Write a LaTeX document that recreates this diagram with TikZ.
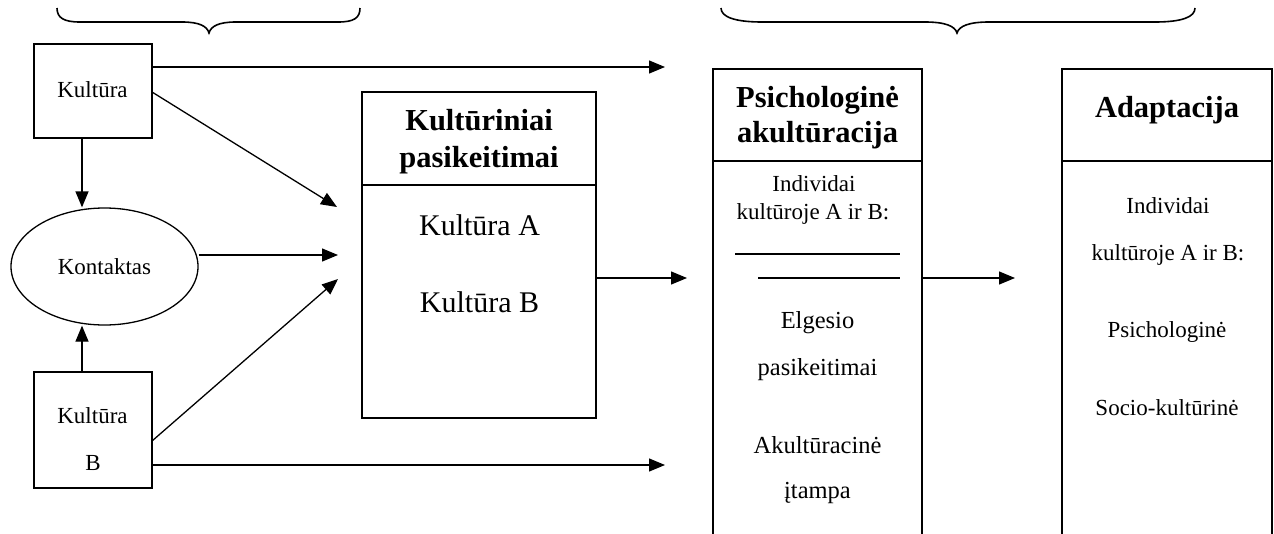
\documentclass[tikz,border=0pt]{standalone}
\usepackage{fontspec}
\setmainfont{Liberation Serif}
\usetikzlibrary{arrows.meta,shapes.geometric}

\begin{document}
\begin{tikzpicture}[x=1pt,y=-1pt,
  line width=1.3pt,
  arr/.style={-{Triangle[length=16pt,width=13pt]}},
  box/.style={draw,rectangle,inner sep=0pt},
  txt/.style={anchor=base,inner sep=0pt,font=\fontsize{23}{26}\selectfont},
  big/.style={anchor=base,inner sep=0pt,font=\fontsize{30}{34}\selectfont},
  head/.style={anchor=base,inner sep=0pt,font=\fontsize{30.5}{34}\selectfont\bfseries},
  mid/.style={anchor=base,inner sep=0pt,font=\fontsize{24.5}{28}\selectfont},
  brace/.style={line width=1.6pt}
]
\useasboundingbox (0,0) rectangle (1274,533);
\clip (0,0) rectangle (1274,533);

% curly braces on top
\draw[brace] (57,8) .. controls (57,18) and (64,22) .. (80,22) -- (182,22)
  .. controls (199,22) and (207,26) .. (209,33)
  .. controls (211,26) and (219,22) .. (236,22) -- (338,22)
  .. controls (354,22) and (360,18) .. (360,8);
\draw[brace] (721,8) .. controls (721,17) and (735,22) .. (762,22) -- (925,22)
  .. controls (945,22) and (955,26) .. (957,33)
  .. controls (959,26) and (969,22) .. (989,22) -- (1155,22)
  .. controls (1182,22) and (1195,17) .. (1195,8);

% culture boxes and contact
\node[box,minimum width=118pt,minimum height=94pt] (kulA) at (93,91) {};
\node[txt] (kulAt) at (92.5,97) {Kultūra};
\node[draw,ellipse,inner sep=0pt,minimum width=187pt,minimum height=117pt,
      font=\fontsize{23}{26}\selectfont] (kont) at (104.5,266.5) {Kontaktas};
\node[box,minimum width=118pt,minimum height=116pt] (kulB) at (93,430) {};
\node[txt] (kulBt) at (92.5,423) {Kultūra};
\node[txt] (kulBb) at (93,470) {B};

% cultural changes
\node[box,minimum width=234pt,minimum height=326pt] (kp) at (479,255) {};
\coordinate (kpDiv) at (362,185);
\draw (kpDiv) -- (kpDiv -| kp.east);
\node[head] (kpH1) at (479,130) {Kultūriniai};
\node[head] (kpH2) at (479,167) {pasikeitimai};
\node[big] (kpA) at (479.5,235) {Kultūra A};
\node[big] (kpB) at (479.5,312) {Kultūra B};

% psychological acculturation
\node[box,minimum width=209pt,minimum height=476pt] (pa) at (817.5,307) {};
\coordinate (paDiv) at (713,161);
\draw (paDiv) -- (paDiv -| pa.east);
\node[head] (paH1) at (817.5,107) {Psichologinė};
\node[head] (paH2) at (817.5,142) {akultūracija};
\node[txt] (paI1) at (814,191) {Individai};
\node[txt] (paI2) at (813,219) {kultūroje A ir B:};
\coordinate (l1a) at (735,254); \coordinate (l1b) at (900,254);
\coordinate (l2a) at (758,278); \coordinate (l2b) at (900,278);
\draw (l1a) -- (l1b);
\draw (l2a) -- (l2b);
\node[mid] (paE1) at (817.5,328) {Elgesio};
\node[mid] (paE2) at (817.5,375) {pasikeitimai};
\node[mid] (paA1) at (817.5,453) {Akultūracinė};
\node[mid] (paA2) at (817.5,498) {įtampa};

% adaptation
\node[box,minimum width=210pt,minimum height=476pt] (ad) at (1167,307) {};
\coordinate (adDiv) at (1062,161);
\draw (adDiv) -- (adDiv -| ad.east);
\node[head] (adH) at (1167,117) {Adaptacija};
\node[txt] (adI1) at (1168,213) {Individai};
\node[txt] (adI2) at (1168,260) {kultūroje A ir B:};
\node[txt] (adP) at (1167,337) {Psichologinė};
\node[txt] (adS) at (1167,415) {Socio-kultūrinė};

% connectors
\coordinate (topEnd) at (665,67);
\coordinate (botEnd) at (665,465);
\coordinate (d1s) at (152,92);  \coordinate (d1e) at (337,207);
\coordinate (hE) at (338,255);
\coordinate (d2s) at (152,441); \coordinate (d2e) at (338,279);
\coordinate (downX) at (82,0);
\coordinate (kpOut) at (687,278);
\coordinate (paOut) at (1015,278);

\draw[arr] (kulA.east |- topEnd) -- (topEnd);
\draw[arr] (d1s) -- (d1e);
\draw[arr] (kulA.south -| downX) -- (kont.north -| downX);
\draw[arr] (kulB.north -| downX) -- (kont.south -| downX);
\draw[arr] (kont.east |- hE) -- (hE);
\draw[arr] (d2s) -- (d2e);
\draw[arr] (kulB.east |- botEnd) -- (botEnd);
\draw[arr] (kp.east |- kpOut) -- (kpOut);
\draw[arr] (pa.east |- paOut) -- (paOut);
\end{tikzpicture}
\end{document}
